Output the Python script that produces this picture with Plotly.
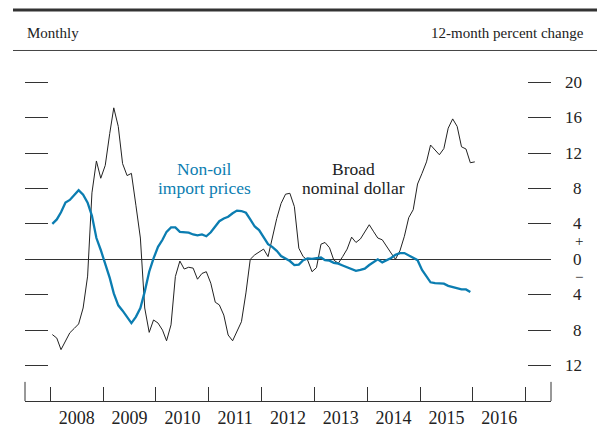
import plotly.graph_objects as go

# ---- data (12-month percent change, monthly, Jan 2008 onward) ----
broad_dollar = [
    -8.5, -8.9, -10.2, -9.2, -8.3, -7.8, -7.3, -5.5, -1.9, 7.5, 11.1, 9.15,
    10.6, 14.2, 17.1, 15.0, 10.8, 9.45, 9.7, 6.1, 2.4, -5.5, -8.25, -6.85,
    -7.2, -8.0, -9.2, -7.4, -1.95, -0.2, -1.1, -0.9, -1.0, -2.25, -1.6, -1.4,
    -2.7, -4.85, -5.15, -6.3, -8.55, -9.2, -8.2, -7.05, -3.8, 0.0, 0.5, 0.8,
    1.15, 0.3, 2.4, 4.6, 6.3, 7.35, 7.45, 5.95, 1.25, 0.3, -0.1, -1.4,
    -0.95, 1.7, 1.9, 1.3, -0.1, -0.45, 0.3, 1.15, 2.5, 1.9, 2.3, 3.05,
    3.9, 3.1, 2.4, 2.2, 1.4, 0.7, 0.0, 0.95, 2.6, 4.7, 5.6, 8.5,
    9.7, 11.0, 12.9, 12.35, 11.8, 12.5, 14.8, 15.85, 15.0, 12.7, 12.45, 10.9,
    11.0,
]
nonoil_import = [
    4.0, 4.5, 5.3, 6.4, 6.7, 7.3, 7.8, 7.3, 6.4, 4.9, 2.4, 1.05,
    -0.45, -2.1, -3.85, -5.2, -5.8, -6.5, -7.2, -6.5, -5.5, -3.65, -1.4, 0.1,
    1.4, 2.2, 3.1, 3.6, 3.6, 3.1, 3.05, 3.0, 2.8, 2.7, 2.8, 2.6,
    3.05, 3.7, 4.3, 4.6, 4.8, 5.2, 5.5, 5.45, 5.25, 4.5, 3.7, 3.3,
    2.45, 1.7, 1.4, 0.95, 0.37, 0.1, -0.2, -0.65, -0.6, -0.1, 0.1, 0.05,
    0.1, 0.2, -0.1, -0.15, -0.4, -0.5, -0.7, -0.9, -1.1, -1.3, -1.2, -1.05,
    -0.65, -0.35, 0.0, -0.35, -0.1, 0.15, 0.5, 0.7, 0.7, 0.45, 0.1, -0.1,
    -1.2, -1.95, -2.6, -2.7, -2.7, -2.75, -3.0, -3.15, -3.3, -3.4, -3.4, -3.7,
]
dates_dollar = [f"{2008 + k // 12}-{k % 12 + 1:02d}-15" for k in range(len(broad_dollar))]
dates_import = [f"{2008 + k // 12}-{k % 12 + 1:02d}-15" for k in range(len(nonoil_import))]

y_ticks = [20, 16, 12, 8, 4, 0, -4, -8, -12]
y_tick_text = ["20", "16", "12", "8", "4", "0", "4", "8", "12"]

FONT = "Liberation Serif"
BLUE = "#0b7db1"
DARK = "#222222"

fig = go.Figure()
fig.add_trace(go.Scatter(x=dates_dollar, y=broad_dollar, mode="lines",
                         line=dict(color=DARK, width=1), hoverinfo="skip"))
fig.add_trace(go.Scatter(x=dates_import, y=nonoil_import, mode="lines",
                         line=dict(color=BLUE, width=2.3), hoverinfo="skip"))

fig.update_layout(
    width=597, height=427,
    margin=dict(l=25, r=46, t=60, b=26, autoexpand=False),
    paper_bgcolor="white", plot_bgcolor="white",
    showlegend=False,
    font=dict(family=FONT, color=DARK),
    xaxis=dict(
        type="date", range=["2007-07-10", "2017-06-25"], automargin=False,
        tick0="2008-01-01", dtick="M12", ticklabelmode="period", tickformat="%Y",
        ticks="inside", ticklen=14, tickwidth=1, tickcolor="#333",
        showline=True, linecolor="#333", linewidth=1,
        showgrid=False, zeroline=False,
        tickfont=dict(family=FONT, size=18, color=DARK),
    ),
    yaxis=dict(
        range=[-16.0, 22.5], automargin=False,
        tickvals=[v for v in y_ticks if v != 0],
        ticks="inside", ticklen=23, tickwidth=1, tickcolor="#333",
        mirror="ticks", showline=False, showticklabels=False,
        showgrid=False, zeroline=True, zerolinecolor="#333", zerolinewidth=1,
    ),
)

annotations = []
for v, t in zip(y_ticks, y_tick_text):
    annotations.append(dict(xref="paper", yref="y", x=1.0627, y=v, text=t,
                            xanchor="right", yanchor="middle", showarrow=False,
                            font=dict(family=FONT, size=17, color=DARK)))
annotations.append(dict(xref="paper", yref="y", x=1.0532, y=2.05, text="+",
                        xanchor="center", yanchor="middle", showarrow=False,
                        font=dict(family=FONT, size=15, color=DARK)))
annotations.append(dict(xref="paper", yref="y", x=1.0532, y=-2.0, text="\u2212",
                        xanchor="center", yanchor="middle", showarrow=False,
                        font=dict(family=FONT, size=15, color=DARK)))
annotations.append(dict(xref="paper", yref="paper", x=0, y=1.0806, text="Monthly",
                        xanchor="left", yanchor="middle", showarrow=False,
                        font=dict(family=FONT, size=15, color=DARK)))
annotations.append(dict(xref="paper", yref="paper", x=1.0665, y=1.0806,
                        text="12-month percent change",
                        xanchor="right", yanchor="middle", showarrow=False,
                        font=dict(family=FONT, size=15, color=DARK)))
label_font = 17.5
annotations.append(dict(xref="x", yref="y", x="2010-12-01", y=10.2, text="Non-oil",
                        xanchor="center", yanchor="middle", showarrow=False,
                        font=dict(family=FONT, size=label_font, color=BLUE)))
annotations.append(dict(xref="x", yref="y", x="2010-12-01", y=8.0, text="import prices",
                        xanchor="center", yanchor="middle", showarrow=False,
                        font=dict(family=FONT, size=label_font, color=BLUE)))
annotations.append(dict(xref="x", yref="y", x="2013-09-28", y=10.2, text="Broad",
                        xanchor="center", yanchor="middle", showarrow=False,
                        font=dict(family=FONT, size=label_font, color=DARK)))
annotations.append(dict(xref="x", yref="y", x="2013-09-28", y=8.0, text="nominal dollar",
                        xanchor="center", yanchor="middle", showarrow=False,
                        font=dict(family=FONT, size=label_font, color=DARK)))
fig.update_layout(annotations=annotations)

shapes = [
    dict(type="line", xref="paper", yref="paper", x0=-0.0228, x1=1.09,
         y0=1.1466, y1=1.1466, line=dict(color="#333", width=3)),
    dict(type="line", xref="paper", yref="paper", x0=-0.0228, x1=1.09,
         y0=1.0279, y1=1.0279, line=dict(color="#444", width=1)),
    dict(type="line", xref="paper", yref="paper", x0=0, x1=0,
         y0=0, y1=0.056, line=dict(color="#333", width=1)),
    dict(type="line", xref="paper", yref="paper", x0=1, x1=1,
         y0=0, y1=0.056, line=dict(color="#333", width=1)),
]
fig.update_layout(shapes=shapes)

fig.write_html("out.html",
               config={"displayModeBar": False},
               post_script="document.body.style.margin='0';document.body.style.padding='0';")
